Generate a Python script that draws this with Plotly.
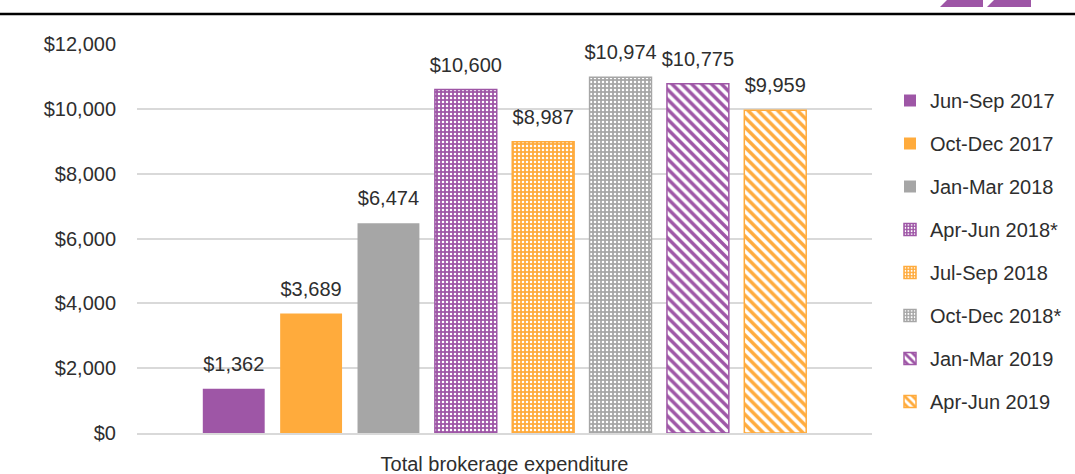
import plotly.graph_objects as go

category = ["Total brokerage expenditure"]
periods = ["Jun-Sep 2017", "Oct-Dec 2017", "Jan-Mar 2018", "Apr-Jun 2018*",
           "Jul-Sep 2018", "Oct-Dec 2018*", "Jan-Mar 2019", "Apr-Jun 2019"]
values = [1362, 3689, 6474, 10600, 8987, 10974, 10775, 9959]
y_ticks = [0, 2000, 4000, 6000, 8000, 10000, 12000]
y_tick_labels = ["$0", "$2,000", "$4,000", "$6,000", "$8,000", "$10,000", "$12,000"]

PURPLE = "#9E56A6"
ORANGE = "#FFAB3C"
GRAY = "#A6A6A6"
colors = [PURPLE, ORANGE, GRAY, PURPLE, ORANGE, GRAY, PURPLE, ORANGE]
patterns = ["", "", "", "dots", "dots", "dots", "stripes", "stripes"]

FONT = "Liberation Sans, Arial, sans-serif"
TXT = "#2E2E2E"
BARGAP = 0.158

fig = go.Figure()
for i, (name, val, col, pat) in enumerate(zip(periods, values, colors, patterns)):
    marker = dict(color=col)
    if pat == "dots":
        marker["pattern"] = dict(shape=".", fgcolor="white", bgcolor=col,
                                 size=4, solidity=0.3, fillmode="replace")
        marker["line"] = dict(color=col, width=1.5)
    elif pat == "stripes":
        marker["pattern"] = dict(shape="\\", fgcolor=col, bgcolor="white",
                                 size=7, solidity=0.5, fillmode="replace")
        marker["line"] = dict(color=col, width=1.5)
    else:
        marker["line"] = dict(color=col, width=0)
    fig.add_trace(go.Bar(
        x=category, y=[val], name=name, marker=marker,
        legendgroup=f"g{i}", offsetgroup=f"o{i}",
    ))

# value labels, grouped like the bars
for i, (name, val) in enumerate(zip(periods, values)):
    fig.add_trace(go.Scatter(
        x=category, y=[val], mode="markers+text", showlegend=False,
        marker=dict(size=19, opacity=0), offsetgroup=f"o{i}",
        texttemplate="$%{y:,}", textposition="top center",
        textfont=dict(family=FONT, size=20, color=TXT),
        hoverinfo="skip", cliponaxis=False,
    ))

# pixel -> paper helpers for decoration
L, R, T, B = 137, 872, 44, 433
def px(x):
    return (x - L) / (R - L)
def py(y):
    return (B - y) / (B - T)

shapes = [
    dict(type="line", xref="paper", yref="paper", x0=px(0), x1=px(1075),
         y0=py(14), y1=py(14), line=dict(color="black", width=2.5)),
    dict(type="path", xref="paper", yref="paper", fillcolor=PURPLE, line=dict(width=0),
         path=f"M{px(940)},{py(7)} L{px(983)},{py(7)} L{px(983)},{py(-2)} L{px(949)},{py(-2)} Z"),
    dict(type="path", xref="paper", yref="paper", fillcolor=PURPLE, line=dict(width=0),
         path=f"M{px(987)},{py(7)} L{px(1031)},{py(7)} L{px(1031)},{py(-2)} L{px(996)},{py(-2)} Z"),
]

fig.update_layout(
    width=1075, height=474,
    margin=dict(l=L, r=1075 - R, t=T, b=474 - B, autoexpand=False),
    paper_bgcolor="white", plot_bgcolor="white",
    barmode="group", bargap=BARGAP, bargroupgap=0.2,
    scattermode="group", scattergap=BARGAP,
    font=dict(family=FONT, size=20, color=TXT),
    showlegend=True,
    legend=dict(x=px(890), xanchor="left", y=py(81), yanchor="top",
                font=dict(family=FONT, size=20, color=TXT),
                tracegroupgap=14, itemwidth=30, bgcolor="rgba(0,0,0,0)"),
    shapes=shapes,
)
fig.update_yaxes(range=[0, 12000], tickvals=y_ticks, ticktext=y_tick_labels,
                 showgrid=True, gridcolor="#D9D9D9", gridwidth=1.5,
                 zeroline=False, showline=False, ticks="",
                 ticklabelstandoff=20,
                 tickfont=dict(family=FONT, size=20, color=TXT))
fig.update_xaxes(showline=True, linecolor="#D9D9D9", linewidth=1.5, ticks="",
                 ticklabelstandoff=12,
                 tickfont=dict(family=FONT, size=20, color=TXT))

fig.write_html("out.html", config={"displayModeBar": False},
               post_script="document.body.style.margin='0';")
